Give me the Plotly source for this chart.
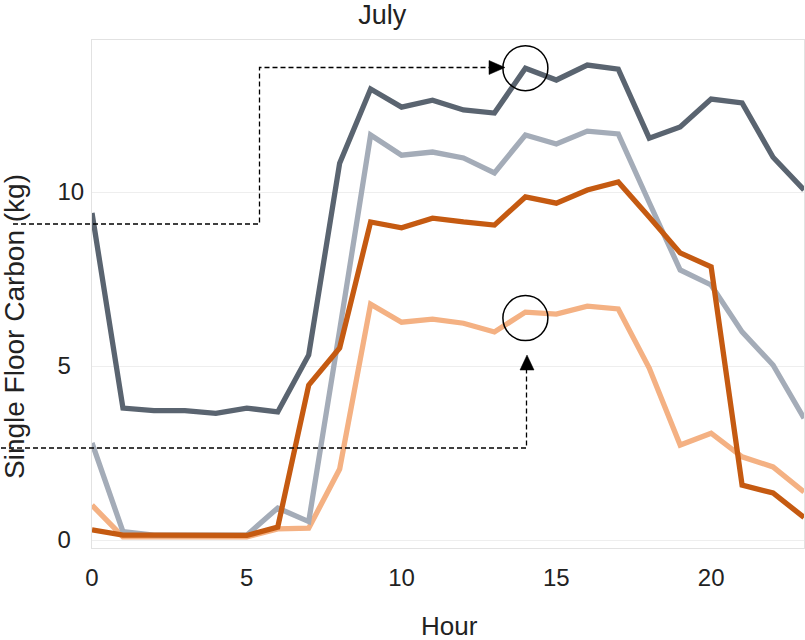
import plotly.graph_objects as go

hours = list(range(24))
dark_gray = [9.40, 3.79, 3.72, 3.72, 3.64, 3.79, 3.68, 5.32, 10.83, 12.96, 12.44, 12.64,
             12.36, 12.27, 13.56, 13.22, 13.65, 13.53, 11.55, 11.87, 12.67, 12.56, 11.00, 10.06]
light_gray = [2.79, 0.24, 0.14, 0.14, 0.14, 0.14, 0.92, 0.53, 6.03, 11.64, 11.06, 11.15,
              10.98, 10.55, 11.64, 11.38, 11.75, 11.67, 9.70, 7.76, 7.33, 5.98, 5.03, 3.50]
dark_orange = [0.29, 0.14, 0.14, 0.14, 0.14, 0.13, 0.37, 4.45, 5.52, 9.14, 8.97, 9.25,
               9.14, 9.05, 9.86, 9.68, 10.06, 10.29, 9.28, 8.25, 7.85, 1.58, 1.35, 0.65]
light_orange = [1.00, 0.09, 0.09, 0.09, 0.09, 0.09, 0.32, 0.34, 2.04, 6.78, 6.26, 6.35,
                6.23, 5.98, 6.55, 6.49, 6.72, 6.64, 4.94, 2.73, 3.07, 2.39, 2.10, 1.38]

x_ticks = [0, 5, 10, 15, 20]
y_ticks = [0, 5, 10]
y_ticktext = ["0\u2007", "5\u2007", "10"]
title_text = "July"
x_title = "Hour"
y_title = "Single Floor Carbon (kg)"
highlight_hour = 14

W, H = 805, 640
ML, MR, MT, MB = 92, 1, 40, 92
PW, PH = W - ML - MR, H - MT - MB


def px(x):
    return (x - ML) / PW


def py(y):
    return (MT + PH - y) / PH


fig = go.Figure()
series = [
    ("Light orange", light_orange, "#f4b183"),
    ("Light gray", light_gray, "#a4acb8"),
    ("Dark gray", dark_gray, "#5a6470"),
    ("Dark orange", dark_orange, "#c55a11"),
]
for name, vals, col in series:
    fig.add_trace(go.Scatter(x=hours, y=vals, mode="lines", name=name,
                             line=dict(color=col, width=5.3), showlegend=False))

dash = "5px,3px"
shapes = []
shapes.append(dict(type="path", xref="paper", yref="paper",
                   path=f"M {px(13)} {py(224)} L {px(259.5)} {py(224)} L {px(259.5)} {py(67.5)} L {px(491)} {py(67.5)}",
                   line=dict(color="black", width=1.3, dash=dash)))
shapes.append(dict(type="path", xref="paper", yref="paper",
                   path=f"M {px(505)} {py(67.5)} L {px(489)} {py(60.5)} L {px(489)} {py(74.5)} Z",
                   fillcolor="black", line=dict(color="black", width=0.5)))
shapes.append(dict(type="path", xref="paper", yref="paper",
                   path=f"M {px(1)} {py(448)} L {px(526.5)} {py(448)} L {px(526.5)} {py(369)}",
                   line=dict(color="black", width=1.3, dash=dash)))
shapes.append(dict(type="path", xref="paper", yref="paper",
                   path=f"M {px(527)} {py(355)} L {px(520)} {py(370)} L {px(534)} {py(370)} Z",
                   fillcolor="black", line=dict(color="black", width=0.5)))
shapes.append(dict(type="circle", xref="x", yref="y", xsizemode="pixel", ysizemode="pixel",
                   xanchor=highlight_hour, yanchor=dark_gray[highlight_hour],
                   x0=-22.5, x1=22.5, y0=-22.5, y1=22.5,
                   line=dict(color="black", width=1.5)))
shapes.append(dict(type="circle", xref="x", yref="y", xsizemode="pixel", ysizemode="pixel",
                   xanchor=highlight_hour, yanchor=light_orange[highlight_hour],
                   x0=-22.5, x1=22.5, y0=-28.5, y1=16.5,
                   line=dict(color="black", width=1.5)))

annotations = [
    dict(text=y_title, xref="paper", yref="paper", x=px(14), y=py(327),
         textangle=-90, showarrow=False, xanchor="center", yanchor="middle",
         font=dict(size=28, color="#222")),
    dict(text=x_title, xref="paper", yref="paper", x=px(449), y=py(626),
         showarrow=False, xanchor="center", yanchor="middle",
         font=dict(size=26, color="#222")),
]

fig.update_layout(
    width=W, height=H,
    margin=dict(l=ML, r=MR, t=MT, b=MB),
    paper_bgcolor="white", plot_bgcolor="white",
    font=dict(family="Arial, Liberation Sans, sans-serif", color="#222"),
    title=dict(text=title_text, x=px(430), xanchor="center", y=1 - 15 / H, yanchor="middle",
               font=dict(size=27, color="#222")),
    shapes=shapes,
    annotations=annotations,
    xaxis=dict(range=[0, 23], tickvals=x_ticks, showgrid=False, zeroline=False,
               showline=True, mirror=True, linecolor="#e2e2e2", linewidth=1,
               ticks="", ticklabelstandoff=8, tickfont=dict(size=24, color="#222")),
    yaxis=dict(range=[-0.23, 14.37], tickvals=y_ticks, ticktext=y_ticktext,
               showgrid=True, gridcolor="#eeeeee", zeroline=False,
               showline=True, mirror=True, linecolor="#e2e2e2", linewidth=1,
               ticks="", ticklabelstandoff=2, tickfont=dict(size=24, color="#222")),
)

fig.write_html("out.html", config={"displayModeBar": False},
               post_script="document.body.style.margin='0px';")
